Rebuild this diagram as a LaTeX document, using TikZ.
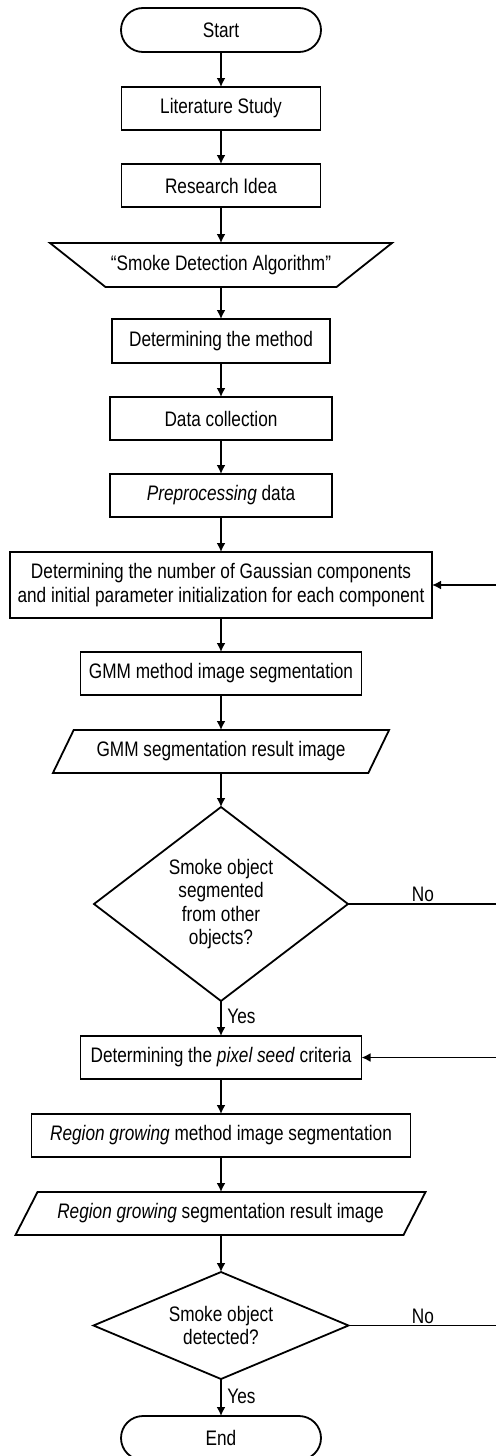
\documentclass[tikz,border=0pt]{standalone}
\usepackage{fontspec}
\setmainfont{Liberation Sans}[FakeStretch=0.82]
\usetikzlibrary{arrows.meta,shapes.geometric,calc}
\newcommand{\fs}{\fontsize{10.5pt}{11.6pt}\selectfont}
\begin{document}
\begin{tikzpicture}[x=0.5pt,y=-0.5pt,
  base/.style={font=\fs, align=center, inner sep=0pt, outer sep=0pt, line width=0.9pt},
  proc/.style={base, draw, rectangle, minimum height=21.5pt},
  term/.style={base, draw, rectangle, rounded corners=11pt, minimum width=100pt, minimum height=22pt},
  iobox/.style={base, minimum height=21.5pt},
  dec/.style={base, draw, diamond},
  arr/.style={line width=0.9pt, -{Latex[length=4.5pt,width=4.5pt]}},
  shp/.style={line width=0.9pt, line join=miter},
  lbl/.style={font=\fs, inner sep=0pt}
]
\useasboundingbox (0,0) rectangle (496,1456);
\fill[white] (0,0) rectangle (496,1456);

\node[term] (start) at (221,30) {Start};
\node[proc, minimum width=99.5pt] (lit) at (221,108.5) {Literature Study};
\node[proc, minimum width=99.5pt] (idea) at (221,185.5) {Research Idea};
\node[iobox, minimum width=115pt, minimum height=22pt] (sda) at (221,265) {“Smoke Detection Algorithm”};
\draw[shp] ([xshift=-85.5pt]sda.north) -- ([xshift=85.5pt]sda.north) -- ([xshift=57.75pt]sda.south) -- ([xshift=-57.75pt]sda.south) -- cycle;
\node[proc, minimum width=109pt, minimum height=22pt] (meth) at (221,341) {Determining the method};
\node[proc, minimum width=111pt] (data) at (221,418.5) {Data collection};
\node[proc, minimum width=111pt] (pre) at (221,495.5) {\textit{Preprocessing} data};
\node[proc, minimum width=211pt, minimum height=33pt] (gauss) at (221,585) {Determining the number of Gaussian components\\and initial parameter initialization for each component};
\node[proc, minimum width=140.5pt] (gmm) at (221,673.5) {GMM method image segmentation};
\node[iobox, minimum width=150pt] (gmmimg) at (221,751.5) {GMM segmentation result image};
\draw[shp] ([xshift=-73.65pt]gmmimg.north) -- ([xshift=84.05pt]gmmimg.north) -- ([xshift=73.65pt]gmmimg.south) -- ([xshift=-84.05pt]gmmimg.south) -- cycle;
\node[dec, minimum width=127pt, minimum height=97pt, aspect=1.3] (d1) at (221,904) {Smoke object\\segmented\\from other\\objects?};
\node[proc, minimum width=140.5pt] (seed) at (221,1057.5) {Determining the \textit{pixel seed} criteria};
\node[proc, minimum width=189.5pt] (rg) at (221,1135.5) {\textit{Region growing} method image segmentation};
\node[iobox, minimum width=185pt] (rgimg) at (220.5,1213.5) {\textit{Region growing} segmentation result image};
\draw[shp] ([xshift=-91.5pt]rgimg.north) -- ([xshift=102.5pt]rgimg.north) -- ([xshift=91.5pt]rgimg.south) -- ([xshift=-102.5pt]rgimg.south) -- cycle;
\node[dec, minimum width=127.5pt, minimum height=53.5pt, aspect=2.4] (d2) at (221,1325.5) {Smoke object\\detected?};
\node[term] (end) at (221,1438) {End};

\coordinate (rt) at (498,0);

\draw[arr] (start) -- (lit);
\draw[arr] (lit) -- (idea);
\draw[arr] (idea.south) -- (sda.north);
\draw[arr] (sda.south) -- (meth.north);
\draw[arr] (meth) -- (data);
\draw[arr] (data) -- (pre);
\draw[arr] (pre) -- (gauss);
\draw[arr] (gauss) -- (gmm);
\draw[arr] (gmm.south) -- (gmm.south |- gmmimg.north);
\draw[arr] (gmmimg.south -| d1) -- (d1.north);
\draw[arr] (d1.south) -- (seed.north);
\draw[arr] (seed) -- (rg);
\draw[arr] (rg.south) -- (rg.south |- rgimg.north);
\draw[arr] (rgimg.south -| d2) -- (d2.north);
\draw[arr] (d2.south) -- (end.north);
\draw[arr] (d1.east) -- (d1.east -| rt) |- (gauss.east);
\draw[arr] (d2.east) -- (d2.east -| rt) |- (seed.east);

\node[lbl, anchor=base] (no1) at (423,901) {No};
\node[lbl, anchor=base] (no2) at (423,1323) {No};
\node[lbl, anchor=base west] (yes1) at (227,1023) {Yes};
\node[lbl, anchor=base west] (yes2) at (227,1403) {Yes};
\end{tikzpicture}
\end{document}
